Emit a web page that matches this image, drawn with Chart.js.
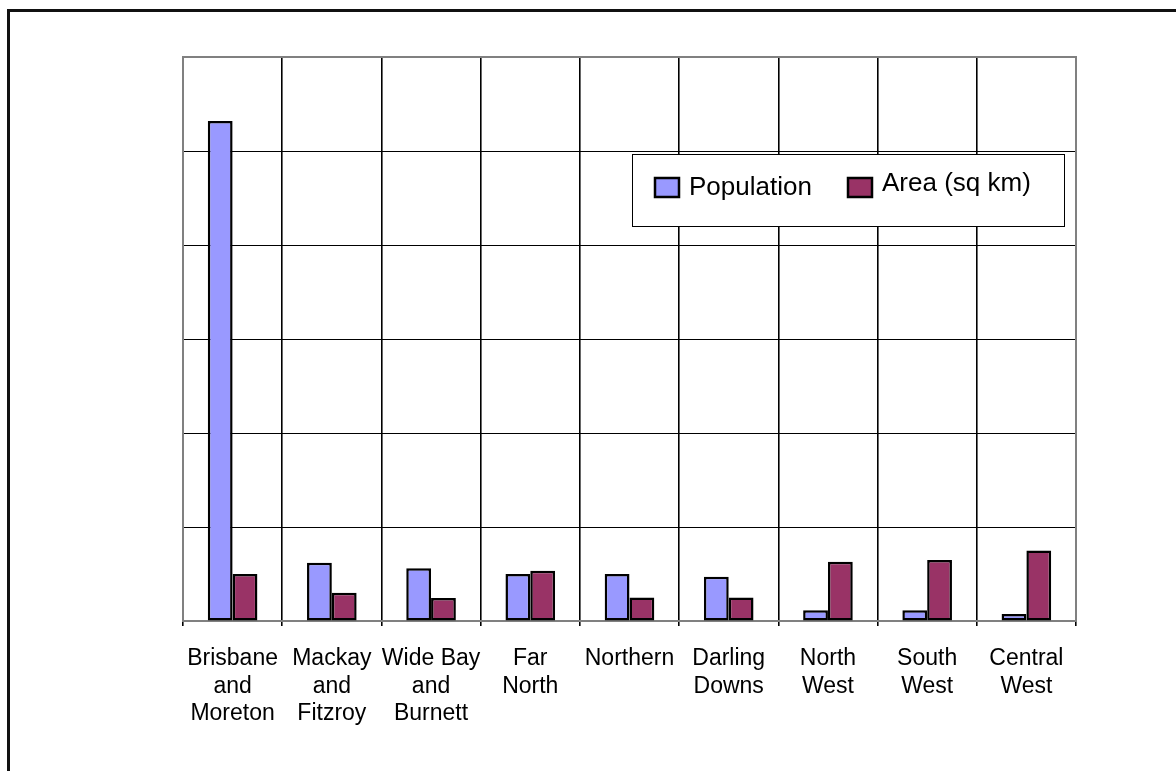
<!DOCTYPE html>
<html>
<head>
<meta charset="utf-8">
<script src="https://cdn.jsdelivr.net/npm/chart.js@4.4.0/dist/chart.umd.min.js"></script>
<style>
  html, body { margin: 0; padding: 0; background: #fff; }
  #marco { position: absolute; left: 7px; top: 9px; width: 1200px; height: 800px;
           border-top: 3px solid #111; border-left: 3px solid #111; }
  #grafica { position: absolute; left: 0; top: 0; }
</style>
</head>
<body>
<div id="marco"></div>
<canvas id="grafica" width="1176" height="771"></canvas>
<script>
// Datos de la gráfica
const regiones = [
    ['Brisbane', 'and', 'Moreton'],
    ['Mackay', 'and', 'Fitzroy'],
    ['Wide Bay', 'and', 'Burnett'],
    ['Far', 'North'],
    'Northern',
    ['Darling', 'Downs'],
    ['North', 'West'],
    ['South', 'West'],
    ['Central', 'West']
];
const poblacion = [2660000, 310000, 280000, 250000, 250000, 235000, 57000, 57000, 37000];
const area = [250000, 150000, 122000, 267000, 125000, 125000, 315000, 325000, 375000];
const yMax = 3000000;
const yPaso = 500000;

const fuente = '"Liberation Sans", Arial, sans-serif';

// Marco gris del área de trazado
const marcoArea = {
    id: 'marcoArea',
    beforeDatasetsDraw(chart) {
        const { ctx, chartArea: a } = chart;
        ctx.save();
        ctx.strokeStyle = '#808080';
        ctx.lineWidth = 2;
        ctx.strokeRect(a.left, a.top, a.right - a.left, a.bottom - a.top);
        ctx.restore();
    }
};

// Leyenda dentro del área de trazado
const leyenda = {
    id: 'leyenda',
    afterDraw(chart, args, o) {
        const ctx = chart.ctx;
        ctx.save();
        ctx.fillStyle = '#fff';
        ctx.fillRect(o.x, o.y, o.w, o.h);
        ctx.strokeStyle = '#000';
        ctx.lineWidth = 1;
        ctx.strokeRect(o.x + 0.5, o.y + 0.5, o.w, o.h);
        ctx.font = '26px ' + fuente;
        ctx.textBaseline = 'alphabetic';
        chart.data.datasets.forEach((ds, i) => {
            const x = o.x + o.items[i];
            const y = o.y + 24;
            ctx.fillStyle = ds.backgroundColor;
            ctx.fillRect(x, y, 24, 19);
            ctx.strokeStyle = '#000';
            ctx.lineWidth = 2.5;
            ctx.strokeRect(x, y, 24, 19);
            ctx.fillStyle = '#000';
            ctx.fillText(ds.label, x + 34, y + o.baselines[i]);
        });
        ctx.restore();
    }
};

const ctxGrafica = document.getElementById('grafica').getContext('2d');

new Chart(ctxGrafica, {
    type: 'bar',
    data: {
        labels: regiones,
        datasets: [
            { label: 'Population', data: poblacion, backgroundColor: '#9999FF' },
            { label: 'Area (sq km)', data: area, backgroundColor: '#993366' }
        ]
    },
    options: {
        responsive: false,
        animation: false,
        datasets: {
            bar: {
                borderColor: '#000',
                borderWidth: 2.5,
                borderSkipped: false,
                barPercentage: 1,
                categoryPercentage: 0.5
            }
        },
        layout: { padding: { left: 183, top: 57, right: 100, bottom: 0 } },
        plugins: {
            legend: { display: false },
            tooltip: { enabled: false },
            leyenda: { x: 632, y: 154, w: 432, h: 72, items: [23, 216], baselines: [17, 13] }
        },
        scales: {
            x: {
                grid: { color: '#000', lineWidth: 1.6, tickLength: 5, offset: true },
                border: { color: '#808080', width: 2 },
                ticks: {
                    color: '#000',
                    font: { family: fuente, size: 23, lineHeight: 1.2 },
                    padding: 19,
                    maxRotation: 0,
                    autoSkip: false
                },
                afterFit: s => { s.height = 150; }
            },
            y: {
                min: 0,
                max: yMax,
                ticks: { display: false, stepSize: yPaso },
                grid: { color: '#000', lineWidth: 1, drawTicks: false },
                border: { color: '#808080', width: 2 },
                afterFit: s => { s.width = 0; }
            }
        }
    },
    plugins: [marcoArea, leyenda]
});
</script>
</body>
</html>
